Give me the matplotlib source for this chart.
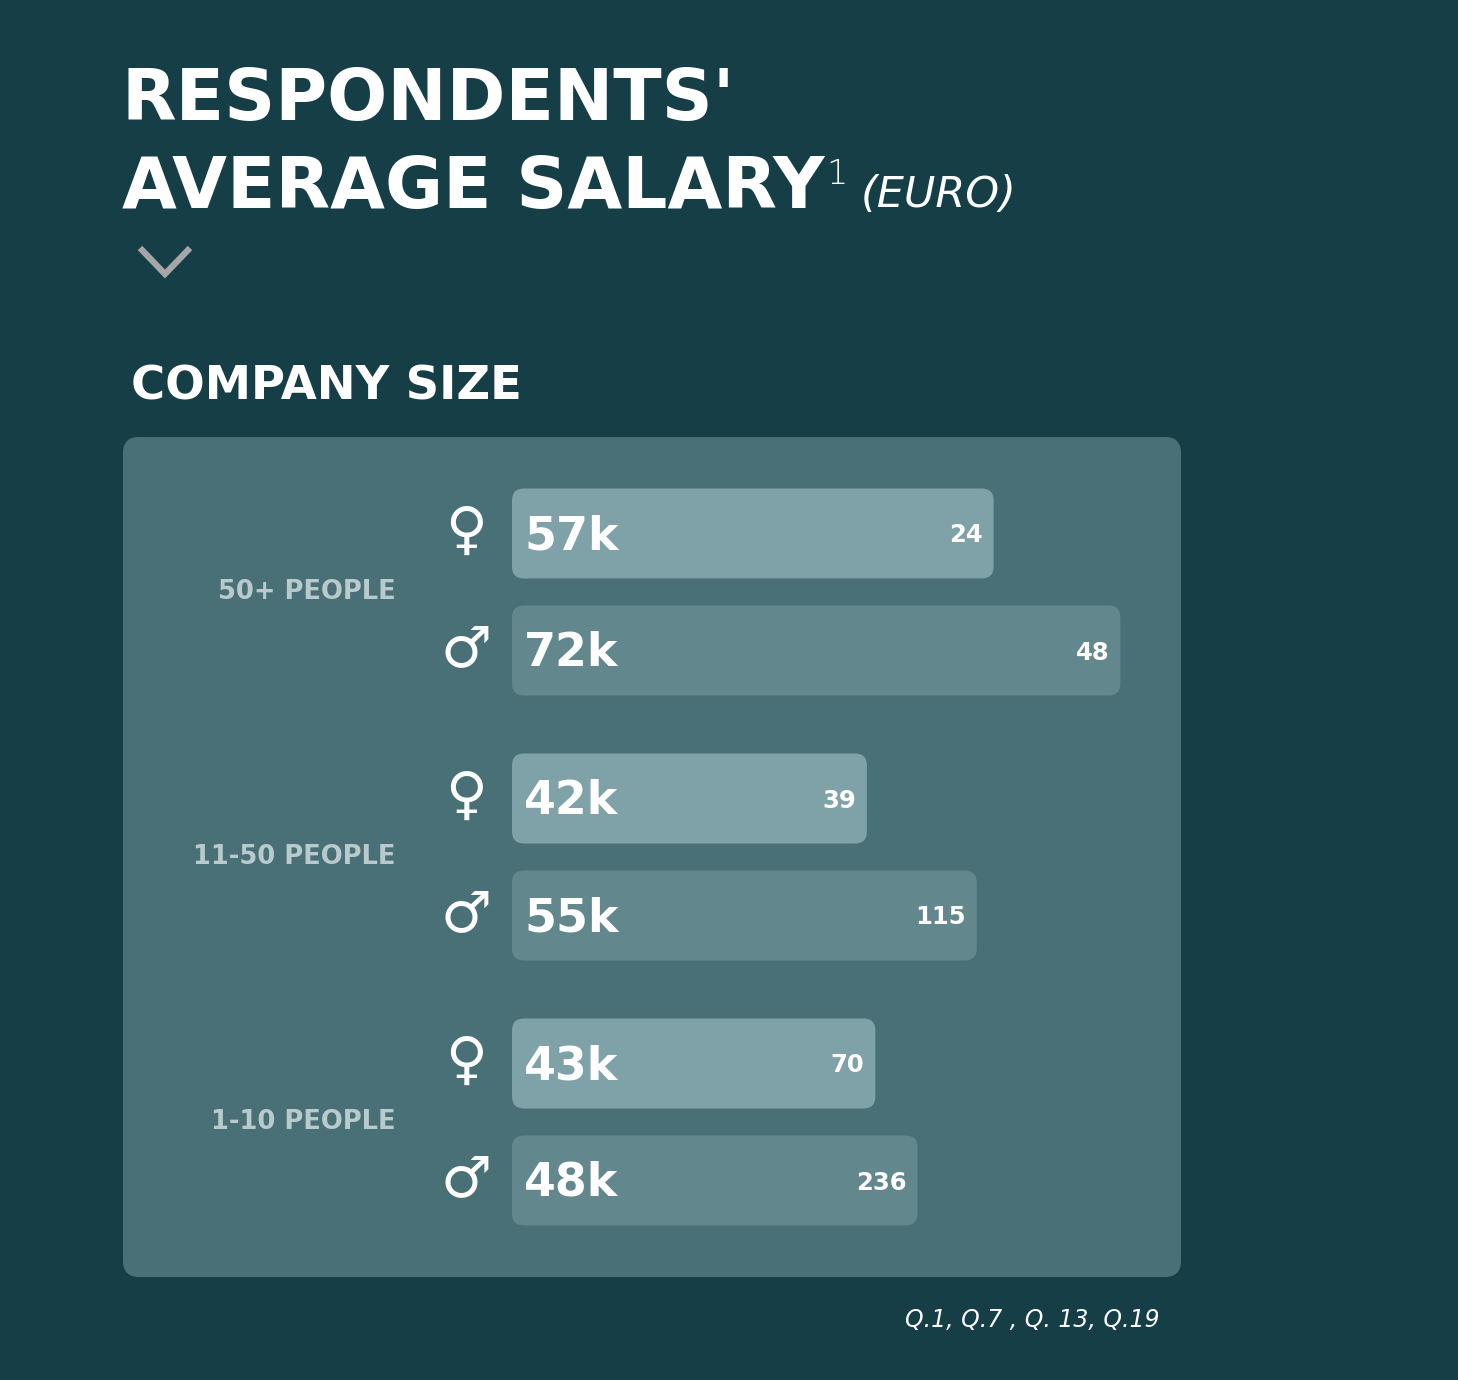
import matplotlib
matplotlib.use('Agg')
import matplotlib.pyplot as plt
from matplotlib.patches import FancyBboxPatch

# data (salary in k EUR, n = respondents)
sizes = ['50+ PEOPLE', '11-50 PEOPLE', '1-10 PEOPLE']
female_salary = [57, 42, 43]
male_salary = [72, 55, 48]
female_n = [24, 39, 70]
male_n = [48, 115, 236]

BG = '#153e47'
PANEL = '#4a7077'
FEMALE = '#7fa2a8'
MALE = '#62878c'
LABEL = '#b8cacc'

W, H = 1458, 1380
PX_PER_K = 8.45
BAR_X0 = 512

fig = plt.figure(figsize=(W / 100, H / 100), dpi=100)
fig.patch.set_facecolor(BG)

# background axes in pixel coords, for text / panel
bg = fig.add_axes([0, 0, 1, 1])
bg.set_xlim(0, W)
bg.set_ylim(H, 0)
bg.axis('off')

# bar axes: x in k EUR, y in pixels
ax = fig.add_axes([0, 0, 1, 1])
ax.set_xlim(-BAR_X0 / PX_PER_K, (W - BAR_X0) / PX_PER_K)
ax.set_ylim(H, 0)
ax.axis('off')

# title
t1 = bg.text(122, 120, "RESPONDENTS'", color='white', fontsize=51,
             fontweight='heavy', va='baseline')
t2 = bg.text(122, 208, 'AVERAGE SALARY', color='white', fontsize=51,
             fontweight='heavy', va='baseline')
fig.canvas.draw()
r = fig.canvas.get_renderer()
ext = t2.get_window_extent(r)
x_end = ext.x1
bg.text(x_end + 2, 184, '1', color='white', fontsize=24, fontweight='light',
        va='baseline')
bg.text(x_end + 36, 207, '(EURO)', color='white', fontsize=31,
        fontweight='light', style='italic', va='baseline')

# chevron
bg.plot([140, 165, 190], [248, 274, 248], color='#a6a6a6', lw=4.5,
        solid_joinstyle='miter', solid_capstyle='butt')

bg.text(131, 399, 'COMPANY SIZE', color='white', fontsize=33.5,
        fontweight='bold', va='baseline')

# panel
panel = FancyBboxPatch((123, 437), 1181 - 123, 1277 - 437,
                       boxstyle='round,pad=0,rounding_size=16',
                       fc=PANEL, ec='none')
bg.add_patch(panel)

# layout
group_top = 592
group_step = 265
pair_gap = 58.5
bar_h = 90
rad = 12

for i, name in enumerate(sizes):
    c = group_top + i * group_step
    bg.text(396, c, name, color=LABEL, fontsize=18.5, fontweight='bold',
            ha='right', va='center')
    rows = [(c - pair_gap, female_salary[i], female_n[i], FEMALE, '\u2640'),
            (c + pair_gap, male_salary[i], male_n[i], MALE, '\u2642')]
    for y, val, n, col, sym in rows:
        bars = ax.barh([y], [val], height=bar_h, left=0, color='none')
        for b in bars:
            bx, by = b.get_xy()
            p = FancyBboxPatch((bx, by), b.get_width(), b.get_height(),
                               boxstyle='round,pad=0,rounding_size=%f' % (rad / PX_PER_K),
                               mutation_aspect=PX_PER_K, fc=col, ec='none')
            ax.add_patch(p)
        ax.text(12 / PX_PER_K, y + 3, '%dk' % val, color='white', fontsize=33,
                fontweight='heavy', ha='left', va='center')
        ax.text(val - 11 / PX_PER_K, y + 2, str(n), color='white', fontsize=17.5,
                fontweight='heavy', ha='right', va='center')
        bg.text(466, y, sym, color='white', fontsize=41, family='DejaVu Sans',
                fontweight='normal', ha='center', va='center')

bg.text(1160, 1327, 'Q.1, Q.7 , Q. 13, Q.19', color='white', fontsize=17,
        style='italic', ha='right', va='baseline')

fig.savefig('out.png', dpi=100, facecolor=BG)
